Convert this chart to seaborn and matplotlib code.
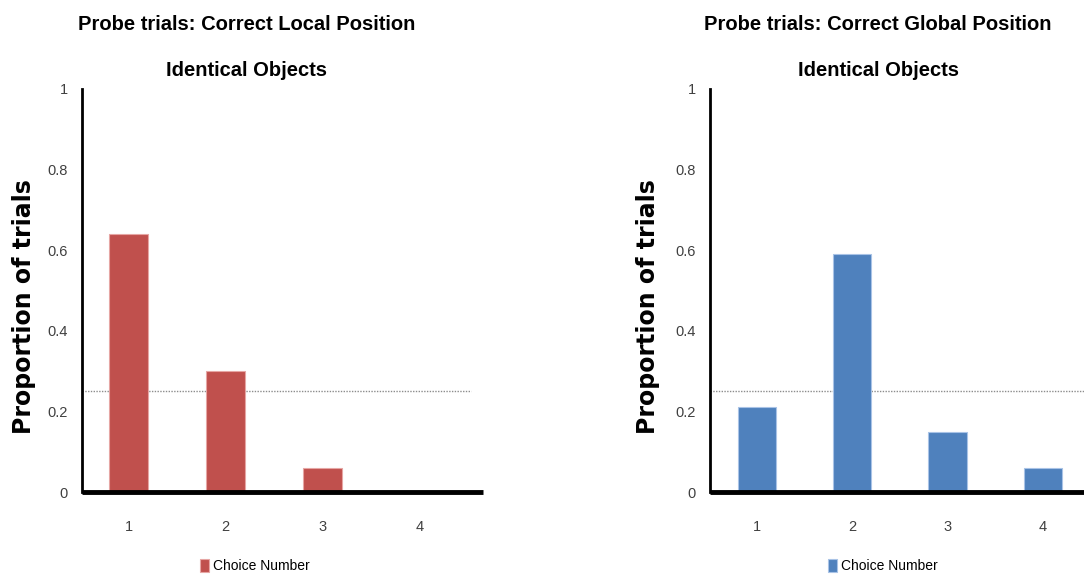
import numpy as np
import pandas as pd
import seaborn as sns
import matplotlib.pyplot as plt
from matplotlib.ticker import FuncFormatter

# data
choices = ["1", "2", "3", "4"]
local_props = [0.64, 0.30, 0.06, 0.0]
global_props = [0.21, 0.59, 0.15, 0.06]
chance_level = 0.25
y_ticks = [0, 0.2, 0.4, 0.6, 0.8, 1]

title_lines = [
    ["Probe trials: Correct Local Position", "Identical Objects"],
    ["Probe trials: Correct Global Position", "Identical Objects"],
]
ylabel = "Proportion of trials"
legend_label = "Choice Number"

RED = "#C0504D"
BLUE = "#4F81BD"

sns.set_style("white")
plt.rcParams["font.family"] = ["Liberation Sans", "DejaVu Sans"]
plt.rcParams["text.color"] = "black"

W, H = 1084, 578
fig = plt.figure(figsize=(W / 100, H / 100), dpi=100)


def px_rect(left, top, right, bottom):
    return [left / W, 1 - bottom / H, (right - left) / W, (bottom - top) / H]


panels = [
    dict(vals=local_props, color=RED, edge="#E6A6A4", title=title_lines[0],
         rect=px_rect(82, 89, 483, 492), xlim=(-0.48, 3.65), dot_xmax=0.97,
         title_x=247, ylab_x=24, leg_x=255),
    dict(vals=global_props, color=BLUE, edge="#A9C3E6", title=title_lines[1],
         rect=px_rect(710, 89, 1105, 492), xlim=(-0.49, 3.65), dot_xmax=1.0,
         title_x=878, ylab_x=648, leg_x=883),
]

for p in panels:
    ax = fig.add_axes(p["rect"])
    df = pd.DataFrame({"choice": choices, "prop": p["vals"]})
    sns.barplot(data=df, x="choice", y="prop", color=p["color"], width=0.4,
                saturation=1, edgecolor=p["edge"], linewidth=0.8,
                label=legend_label, ax=ax)
    ax.axhline(chance_level, xmin=0, xmax=p["dot_xmax"], color="#8c8c8c",
               linestyle=(0, (1, 1)), linewidth=1.0, zorder=0.5,
               clip_on=False)
    ax.set_xlim(*p["xlim"])
    ax.set_ylim(0, 1)
    ax.set_yticks(y_ticks)
    ax.yaxis.set_major_formatter(FuncFormatter(lambda v, _: f"{v:g}"))
    ax.tick_params(axis="both", length=0, labelsize=10.5, colors="#404040")
    ax.tick_params(axis="y", pad=10)
    ax.tick_params(axis="x", pad=20)
    ax.set_xlabel("")
    ax.set_ylabel("")
    for s in ("top", "right"):
        ax.spines[s].set_visible(False)
    ax.spines["left"].set_linewidth(2.0)
    ax.spines["left"].set_color("black")
    ax.spines["bottom"].set_linewidth(3.5)
    ax.spines["bottom"].set_color("black")
    ax.spines["bottom"].set_capstyle("butt")

    for line, ypx in zip(p["title"], (25, 70)):
        fig.text(p["title_x"] / W, 1 - ypx / H, line, ha="center",
                 va="center", fontsize=14.5, fontweight="bold")
    fig.text(p["ylab_x"] / W, 1 - 307 / H, ylabel, rotation=90, ha="center",
             va="center", fontsize=17, fontweight="bold",
             family=["DejaVu Sans"])

    ax.legend(loc="center", bbox_to_anchor=(p["leg_x"] / W, 1 - 566 / H),
              bbox_transform=fig.transFigure, frameon=False, fontsize=10,
              handlelength=0.6, handleheight=1.1, handletextpad=0.3,
              borderpad=0)

fig.savefig("out.png", dpi=100)
